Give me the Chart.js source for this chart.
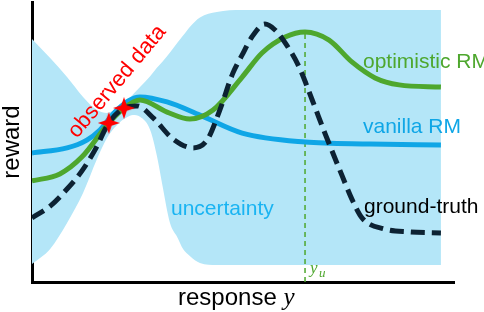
<!DOCTYPE html>
<html>
<head>
<meta charset="utf-8">
<script src="https://cdn.jsdelivr.net/npm/chart.js@4/dist/chart.umd.min.js"></script>
<style>
  html, body { margin: 0; padding: 0; background: #fff; }
</style>
</head>
<body>
<canvas id="chart" width="484" height="312"></canvas>
<script>
// both axes are unitless, 0..100

// uncertainty band
const band_x     = [0, 4.3, 8.3, 12.1, 15.4, 17.8, 20.1, 22.5, 23.9, 25.6, 28.0, 29.6, 30.8, 32.7, 34.4, 35.8, 37.4, 39.8, 43.8, 49.8, 96.9];
const band_upper = [86.8, 80.0, 73.2, 66.1, 61.4, 60.4, 62.1, 65.0, 67.0, 69.6, 73.5, 76.5, 78.5, 82.0, 85.4, 88.0, 91.1, 94.5, 96.4, 97.1, 97.1];
const band_lower = [6.4, 11.8, 21.1, 31.8, 43.9, 51.5, 56.0, 58.8, 59.6, 59.0, 54.3, 45.0, 35.4, 21.1, 16.1, 11.8, 9.3, 6.8, 6.1, 6.1, 6.1];

// vanilla RM
const vanilla_x = [0, 8.3, 13.0, 16.1, 20.1, 25.6, 32.0, 39.8, 49.8, 64.7, 80.1, 96.9];
const vanilla_y = [46.1, 47.9, 50.7, 54.3, 61.4, 66.1, 64.3, 59.6, 53.2, 50.0, 49.3, 48.9];

// optimistic RM
const optimistic_x = [0, 6.6, 11.8, 18.2, 21.8, 25.6, 32.0, 37.4, 42.9, 49.8, 54.5, 60.0, 64.7, 70.4, 75.8, 81.3, 87.0, 96.9];
const optimistic_y = [36.1, 38.6, 44.6, 56.8, 62.1, 65.0, 60.7, 58.2, 61.4, 73.2, 81.8, 87.5, 89.3, 86.4, 78.6, 72.9, 70.4, 69.6];

// ground-truth
const truth_x = [0, 4.3, 8.3, 11.8, 14.9, 18.2, 21.8, 24.9, 28.7, 33.4, 38.2, 41.5, 44.5, 47.6, 49.8, 52.1, 55.2, 57.6, 60.0, 63.3, 66.4, 69.4, 73.5, 75.8, 78.2, 83.6, 89.3, 96.9];
const truth_y = [22.9, 27.1, 33.2, 39.6, 47.1, 56.8, 62.1, 62.9, 58.6, 51.1, 47.9, 50.7, 61.4, 74.6, 81.1, 87.5, 92.1, 90.0, 85.4, 76.8, 65.0, 53.2, 37.9, 29.6, 22.9, 18.9, 17.9, 17.5];

// observed data
const observed_x = [18.2, 21.8];
const observed_y = [56.8, 62.1];

// y_u marker (x of optimistic peak)
const yu_x = [64.7, 64.7];
const yu_y = [0, 89.3];

const COLORS = {
  band: '#b4e6f8',
  vanilla: '#0fa6e6',
  optimistic: '#4ea72e',
  truth: '#0c2233',
  observed: '#ff0000',
  uncertainty_text: '#1ab4f2'
};

function to_points( xs, ys ) {
  return xs.map( ( x, i ) => ( { x: x, y: ys[ i ] } ) );
}

function make_star( size, color ) {
  const c = document.createElement( 'canvas' );
  c.width = size;
  c.height = size;
  const ctx = c.getContext( '2d' );
  const r = size / 2;
  const ri = r * 0.36;
  ctx.fillStyle = color;
  ctx.beginPath();
  for ( let i = 0; i < 8; i++ ) {
    const a = i * Math.PI / 4 - Math.PI / 2;
    const rr = ( i % 2 ) ? ri : r;
    ctx.lineTo( r + rr * Math.cos( a ), r + rr * Math.sin( a ) );
  }
  ctx.closePath();
  ctx.fill();
  return c;
}

function line_set( label, xs, ys, color, order, extra ) {
  return Object.assign( {
    label: label,
    data: to_points( xs, ys ),
    borderColor: color,
    borderWidth: 5,
    pointRadius: 0,
    fill: false,
    cubicInterpolationMode: 'monotone',
    order: order
  }, extra || {} );
}

const text_plugin = {
  id: 'texts',
  afterDraw( chart ) {
    const ctx = chart.ctx;
    const sans = '"Liberation Sans", Arial, sans-serif';
    const serif = '"Liberation Serif", "DejaVu Serif", serif';
    ctx.save();
    ctx.textBaseline = 'alphabetic';
    ctx.textAlign = 'left';

    ctx.font = '21px ' + sans;
    ctx.fillStyle = COLORS.optimistic;
    ctx.fillText( 'optimistic RM', 363, 68 );
    ctx.fillStyle = COLORS.vanilla;
    ctx.fillText( 'vanilla RM', 363, 133 );
    ctx.fillStyle = '#000';
    ctx.fillText( 'ground-truth', 364, 213 );
    ctx.fillStyle = COLORS.uncertainty_text;
    ctx.fillText( 'uncertainty', 171, 215 );

    // observed data, slanted
    ctx.save();
    ctx.translate( 77, 139 );
    ctx.rotate( -50 * Math.PI / 180 );
    ctx.font = '22px ' + sans;
    ctx.fillStyle = COLORS.observed;
    ctx.fillText( 'observed data', 0, 0 );
    ctx.restore();

    // axis titles
    ctx.save();
    ctx.translate( 19, 142 );
    ctx.rotate( -Math.PI / 2 );
    ctx.textAlign = 'center';
    ctx.font = '24px ' + sans;
    ctx.fillStyle = '#000';
    ctx.fillText( 'reward', 0, 0 );
    ctx.restore();

    ctx.font = '24px ' + sans;
    ctx.fillStyle = '#000';
    ctx.fillText( 'response ', 178, 305 );
    const w = ctx.measureText( 'response ' ).width;
    ctx.font = 'italic 25px ' + serif;
    ctx.fillText( 'y', 178 + w, 305 );

    // y_u
    ctx.fillStyle = COLORS.optimistic;
    ctx.font = 'italic 17px ' + serif;
    ctx.fillText( 'y', 310, 273 );
    ctx.font = 'italic 13px ' + serif;
    ctx.fillText( 'u', 319, 277 );
    ctx.restore();
  }
};

new Chart( document.getElementById( 'chart' ), {
  type: 'line',
  data: {
    datasets: [
      line_set( 'band upper', band_x, band_upper, 'rgba(0,0,0,0)', 6, {
        borderWidth: 0, fill: '+1', backgroundColor: COLORS.band } ),
      line_set( 'band lower', band_x, band_lower, 'rgba(0,0,0,0)', 7, {
        borderWidth: 0 } ),
      line_set( 'y_u', yu_x, yu_y, COLORS.optimistic, 4, {
        borderWidth: 1.5, borderDash: [ 5, 4 ], cubicInterpolationMode: 'default', tension: 0 } ),
      line_set( 'vanilla RM', vanilla_x, vanilla_y, COLORS.vanilla, 3 ),
      line_set( 'optimistic RM', optimistic_x, optimistic_y, COLORS.optimistic, 2 ),
      line_set( 'ground-truth', truth_x, truth_y, COLORS.truth, 1, {
        borderDash: [ 14, 7 ] } ),
      {
        label: 'observed data',
        type: 'scatter',
        data: to_points( observed_x, observed_y ),
        pointStyle: make_star( 22, COLORS.observed ),
        pointRadius: 11,
        order: 0
      }
    ]
  },
  options: {
    responsive: false,
    animation: false,
    devicePixelRatio: 1,
    layout: { autoPadding: false, padding: { left: 32, top: 2, right: 30, bottom: 30 } },
    plugins: {
      legend: { display: false },
      tooltip: { enabled: false }
    },
    scales: {
      x: {
        type: 'linear', min: 0, max: 100,
        grid: { display: false, drawTicks: false },
        ticks: { display: false },
        border: { display: true, color: '#000', width: 3 }
      },
      y: {
        type: 'linear', min: 0, max: 100,
        grid: { display: false, drawTicks: false },
        ticks: { display: false },
        border: { display: true, color: '#000', width: 3 }
      }
    }
  },
  plugins: [ text_plugin ]
} );
</script>
</body>
</html>
